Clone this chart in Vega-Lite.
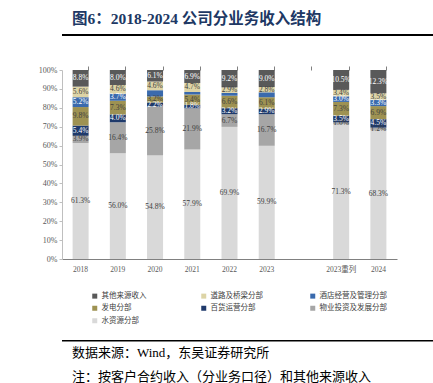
{
  "$schema": "https://vega.github.io/schema/vega-lite/v6.json",
  "padding": {"left": 15, "top": 11, "right": 15, "bottom": 0},
  "config": {"view": {"stroke": null}, "font": "Liberation Serif"},
  "datasets": {
    "rev": [
      {"year": "2018", "seg": "水资源分部", "value": 0.613},
      {"year": "2018", "seg": "物业投资及发展分部", "value": 0.039},
      {"year": "2018", "seg": "百货运营分部", "value": 0.054},
      {"year": "2018", "seg": "发电分部", "value": 0.098},
      {"year": "2018", "seg": "酒店经营及管理分部", "value": 0.052},
      {"year": "2018", "seg": "道路及桥梁分部", "value": 0.056},
      {"year": "2018", "seg": "其他来源收入", "value": 0.088},
      {"year": "2019", "seg": "水资源分部", "value": 0.560},
      {"year": "2019", "seg": "物业投资及发展分部", "value": 0.164},
      {"year": "2019", "seg": "百货运营分部", "value": 0.040},
      {"year": "2019", "seg": "发电分部", "value": 0.073},
      {"year": "2019", "seg": "酒店经营及管理分部", "value": 0.037},
      {"year": "2019", "seg": "道路及桥梁分部", "value": 0.046},
      {"year": "2019", "seg": "其他来源收入", "value": 0.080},
      {"year": "2020", "seg": "水资源分部", "value": 0.548},
      {"year": "2020", "seg": "物业投资及发展分部", "value": 0.258},
      {"year": "2020", "seg": "百货运营分部", "value": 0.022},
      {"year": "2020", "seg": "发电分部", "value": 0.032},
      {"year": "2020", "seg": "酒店经营及管理分部", "value": 0.033},
      {"year": "2020", "seg": "道路及桥梁分部", "value": 0.046},
      {"year": "2020", "seg": "其他来源收入", "value": 0.061},
      {"year": "2021", "seg": "水资源分部", "value": 0.579},
      {"year": "2021", "seg": "物业投资及发展分部", "value": 0.219},
      {"year": "2021", "seg": "百货运营分部", "value": 0.018},
      {"year": "2021", "seg": "发电分部", "value": 0.054},
      {"year": "2021", "seg": "酒店经营及管理分部", "value": 0.014},
      {"year": "2021", "seg": "道路及桥梁分部", "value": 0.047},
      {"year": "2021", "seg": "其他来源收入", "value": 0.069},
      {"year": "2022", "seg": "水资源分部", "value": 0.699},
      {"year": "2022", "seg": "物业投资及发展分部", "value": 0.067},
      {"year": "2022", "seg": "百货运营分部", "value": 0.032},
      {"year": "2022", "seg": "发电分部", "value": 0.066},
      {"year": "2022", "seg": "酒店经营及管理分部", "value": 0.015},
      {"year": "2022", "seg": "道路及桥梁分部", "value": 0.029},
      {"year": "2022", "seg": "其他来源收入", "value": 0.092},
      {"year": "2023", "seg": "水资源分部", "value": 0.599},
      {"year": "2023", "seg": "物业投资及发展分部", "value": 0.167},
      {"year": "2023", "seg": "百货运营分部", "value": 0.029},
      {"year": "2023", "seg": "发电分部", "value": 0.061},
      {"year": "2023", "seg": "酒店经营及管理分部", "value": 0.026},
      {"year": "2023", "seg": "道路及桥梁分部", "value": 0.028},
      {"year": "2023", "seg": "其他来源收入", "value": 0.090},
      {"year": "2023重列", "seg": "水资源分部", "value": 0.713},
      {"year": "2023重列", "seg": "物业投资及发展分部", "value": 0.010},
      {"year": "2023重列", "seg": "百货运营分部", "value": 0.035},
      {"year": "2023重列", "seg": "发电分部", "value": 0.073},
      {"year": "2023重列", "seg": "酒店经营及管理分部", "value": 0.030},
      {"year": "2023重列", "seg": "道路及桥梁分部", "value": 0.034},
      {"year": "2023重列", "seg": "其他来源收入", "value": 0.105},
      {"year": "2024", "seg": "水资源分部", "value": 0.683},
      {"year": "2024", "seg": "物业投资及发展分部", "value": 0.012},
      {"year": "2024", "seg": "百货运营分部", "value": 0.045},
      {"year": "2024", "seg": "发电分部", "value": 0.069},
      {"year": "2024", "seg": "酒店经营及管理分部", "value": 0.033},
      {"year": "2024", "seg": "道路及桥梁分部", "value": 0.035},
      {"year": "2024", "seg": "其他来源收入", "value": 0.123}
    ],
    "segs": [
      {"seg": "水资源分部", "rank": 1},
      {"seg": "物业投资及发展分部", "rank": 2},
      {"seg": "百货运营分部", "rank": 3},
      {"seg": "发电分部", "rank": 4},
      {"seg": "酒店经营及管理分部", "rank": 5},
      {"seg": "道路及桥梁分部", "rank": 6},
      {"seg": "其他来源收入", "rank": 7}
    ]
  },
  "spacing": 29,
  "resolve": {"scale": {"color": "independent"}, "legend": {"color": "independent"}},
  "vconcat": [
    {
      "title": {"text": "图6：2018-2024 公司分业务收入结构", "anchor": "start", "dx": 10, "fontSize": 15.5, "font": "'Liberation Serif', 'Noto Sans CJK SC'", "fontWeight": "bold", "color": "#203864", "offset": 7},
      "width": 403,
      "height": 2,
      "data": {"values": [{"a": 0, "b": 1}]},
      "mark": {"type": "rect", "color": "black"},
      "encoding": {
        "x": {"field": "a", "type": "quantitative", "scale": {"domain": [0, 1]}, "axis": null},
        "x2": {"field": "b"}
      }
    },
    {
      "spacing": 15,
      "resolve": {"scale": {"color": "independent"}, "legend": {"color": "independent"}},
      "vconcat": [
        {
          "width": 335,
          "height": 189,
          "data": {"name": "rev"},
          "transform": [
            {"lookup": "seg", "from": {"data": {"name": "segs"}, "key": "seg", "fields": ["rank"]}}
          ],
          "resolve": {"axis": {"x": "independent"}},
          "layer": [
            {
              "mark": {"type": "bar"},
              "encoding": {
                "x": {
                  "field": "year", "type": "nominal",
                  "scale": {"domain": ["2018", "2019", "2020", "2021", "2022", "2023", " ", "2023重列", "2024"], "paddingInner": 0.57, "paddingOuter": 0.285},
                  "axis": {"title": null, "ticks": false, "tickSize": 0, "labelAngle": 0, "labelPadding": 6, "labelFont": "'Liberation Serif', 'Noto Sans CJK SC'", "labelFontSize": 7.5, "labelColor": "#595959", "domainColor": "#808080"}
                },
                "y": {
                  "field": "value", "type": "quantitative", "stack": "zero",
                  "scale": {"domain": [0, 1], "nice": false},
                  "axis": {"title": null, "format": ".0%", "values": [0, 0.1, 0.2, 0.3, 0.4, 0.5, 0.6, 0.7, 0.8, 0.9, 1], "grid": false, "tickSize": 3, "tickColor": "#bfbfbf", "domainColor": "#bfbfbf", "labelPadding": 2, "labelFontSize": 8, "labelColor": "#595959", "minExtent": 47}
                },
                "color": {
                  "field": "seg", "type": "nominal",
                  "scale": {
                    "domain": ["其他来源收入", "道路及桥梁分部", "酒店经营及管理分部", "发电分部", "百货运营分部", "物业投资及发展分部", "水资源分部"],
                    "range": ["#595959", "#ddd4a6", "#3a6aad", "#9e9252", "#1f3a6b", "#a6a6a6", "#d9d9d9"]
                  },
                  "legend": {"title": null, "orient": "none", "direction": "horizontal", "legendX": 29, "legendY": 222, "columns": 3, "gridAlign": "all", "columnPadding": 31, "rowPadding": 3.5, "symbolType": "square", "symbolSize": 25, "symbolStrokeWidth": 0, "labelFont": "Noto Sans CJK SC", "labelFontSize": 7.5, "labelColor": "#404040", "labelLimit": 200, "labelOffset": 3}
                },
                "order": {"field": "rank", "type": "quantitative", "sort": "ascending"}
              }
            },
            {
              "mark": {"type": "text", "font": "Liberation Serif", "fontSize": 7.5},
              "encoding": {
                "x": {
                  "field": "year", "type": "nominal",
                  "axis": {"title": null, "labels": false, "domain": false, "ticks": true, "tickSize": 4, "tickColor": "#808080", "bandPosition": 1}
                },
                "y": {
                  "field": "value", "type": "quantitative", "stack": "zero", "bandPosition": 0.5,
                  "axis": {"title": null, "format": ".0%", "values": [0, 0.1, 0.2, 0.3, 0.4, 0.5, 0.6, 0.7, 0.8, 0.9, 1], "grid": false, "tickSize": 3, "tickColor": "#bfbfbf", "domainColor": "#bfbfbf", "labelPadding": 2, "labelFontSize": 8, "labelColor": "#595959", "minExtent": 47}
                },
                "detail": {"field": "seg", "type": "nominal"},
                "order": {"field": "rank", "type": "quantitative", "sort": "ascending"},
                "text": {
                  "condition": {"test": "datum.seg == '酒店经营及管理分部' && indexof(['2020','2021','2022','2023'], datum.year) >= 0", "value": ""},
                  "field": "value", "format": ".1%"
                },
                "color": {
                  "condition": {"test": "indexof(['其他来源收入','酒店经营及管理分部','百货运营分部'], datum.seg) >= 0", "value": "white"},
                  "value": "#404040"
                }
              }
            }
          ]
        },
        {
          "title": {"text": ["数据来源：Wind，东吴证券研究所", "注：按客户合约收入（分业务口径）和其他来源收入"], "orient": "bottom", "anchor": "start", "dx": 10, "fontSize": 13, "font": "'Liberation Serif', 'Noto Sans CJK SC'", "fontWeight": "normal", "color": "black", "lineHeight": 24, "offset": 5},
          "width": 403,
          "height": 1.5,
          "data": {"values": [{"a": 0, "b": 1}]},
          "mark": {"type": "rect", "color": "black"},
          "encoding": {
            "x": {"field": "a", "type": "quantitative", "scale": {"domain": [0, 1]}, "axis": null},
            "x2": {"field": "b"}
          }
        }
      ]
    }
  ]
}
